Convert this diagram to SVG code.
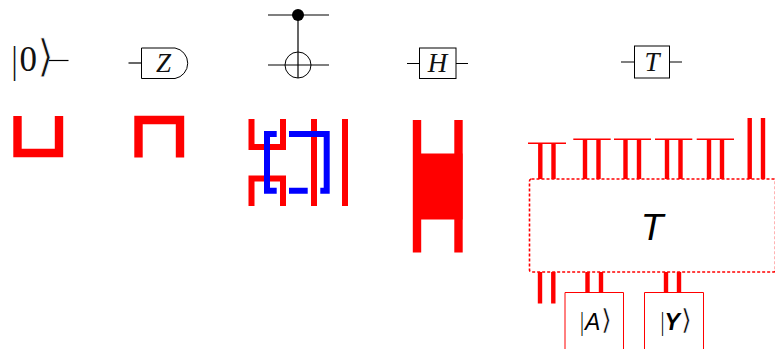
<svg xmlns="http://www.w3.org/2000/svg" width="775" height="349" viewBox="0 0 775 349">
<style>
.w{fill:none;stroke:#000;stroke-width:1.2}
.b{fill:#fff;stroke:#000;stroke-width:1}
.c{fill:none;stroke:#000;stroke-width:1}
.r8{fill:none;stroke:#f00;stroke-width:8.4}
.r6{fill:none;stroke:#f00;stroke-width:6}
.r4{fill:none;stroke:#f00;stroke-width:4.4}
.r2{fill:none;stroke:#f00;stroke-width:1.6}
.bl{fill:none;stroke:#00f;stroke-width:6}
.m{font-family:"Liberation Serif","DejaVu Serif",serif;font-style:italic;fill:#111;text-anchor:middle}
.s{font-family:"Liberation Sans","DejaVu Sans",sans-serif;font-style:italic;fill:#000}
.k{font-family:"Lato","DejaVu Sans",sans-serif;font-style:normal;font-weight:400;font-weight:300}
.a{font-family:"DejaVu Sans",sans-serif;font-style:normal;font-weight:400;stroke:#fff;paint-order:fill}
</style>
<g id="ket0"><text y="71" font-family="'Liberation Serif',serif" font-size="35" fill="#111"><tspan class="k" x="10" font-size="38" y="74">|</tspan><tspan x="19.500" y="71">0</tspan><tspan class="a" x="37" y="71" font-size="44" stroke-width="0.9">⟩</tspan></text><path class="w" d="M49 60.500H68.500"/></g>
<g id="ket0-red"><path class="r8" d="M17.500 116V153H59V116"/></g>
<g id="z-gate"><path class="w" d="M128.500 63H141.500"/><path class="b" d="M141.500 48H175A15.500 15.500 0 0 1 175 78.500H141.500Z"/><text class="m" x="163.500" y="72" font-size="27">Z</text></g>
<g id="z-red"><path class="r8" d="M138.500 157.500V120H180V157.500"/></g>
<g id="cnot"><path class="w" d="M268 15H329M268 65H329M298 15V78"/><circle cx="298" cy="15" r="6" fill="#000"/><circle class="c" cx="298" cy="65" r="13"/></g>
<g id="cnot-red"><path class="r6" d="M251.500 119V147H283V119M251.500 206V178.500H283V206M314 119V206M345 119V206"/></g>
<g id="cnot-blue"><path class="bl" d="M276.700 134H267V190.700H276.700M289 134H326.700V190.700H320.300M289 190.700H307.700"/></g>
<g id="h-gate"><path class="w" d="M407 63.500H419.500M456 63.500H468"/><rect class="b" x="419.500" y="48" width="36.500" height="30.500"/><text class="m" x="437.500" y="72" font-size="27">H</text></g>
<g id="h-red"><path class="r8" d="M417 120V252.500M458.500 120V252.500"/><rect x="413" y="153.500" width="49.500" height="66" fill="#f00"/></g>
<g id="t-gate"><path class="w" d="M621 62H634.500M669.500 62H682"/><rect class="b" x="634.500" y="46" width="35" height="32"/><text class="m" x="652" y="71" font-size="27">T</text></g>
<g id="t-box"><rect x="529.500" y="179" width="246" height="93" rx="2" fill="none" stroke="#f00" stroke-width="1.600" stroke-dasharray="3 2"/><text class="s" x="652" y="240" font-size="37" text-anchor="middle">T</text></g>
<g id="ket-a"><path fill="none" stroke="#f00" stroke-width="1" d="M565 349V292.500H623.500V349"/><text class="s" font-size="23"><tspan class="k" x="579" y="331" font-size="25">|</tspan><tspan x="585" y="330">A</tspan><tspan class="a" x="601" y="329" font-size="28" stroke-width="0.5">⟩</tspan></text></g>
<g id="ket-y"><path fill="none" stroke="#f00" stroke-width="1" d="M644.500 349V292.500H703.500V349"/><text class="s" font-size="23" font-weight="bold"><tspan class="k" x="659.500" y="331" font-size="25">|</tspan><tspan x="664.500" y="330">Y</tspan><tspan class="a" x="681" y="329" font-size="28" stroke-width="0.5">⟩</tspan></text></g>
<g id="connectors"><path class="r4" d="M540.300 143V179M553.500 143V179M585 139V179M598.500 139V179M625.500 139V179M639 139V179M667 139V179M680.500 139V179M709 139V179M722 139V179M749.700 118V179M763 118V179M540 272V303.500M553.300 272V303.500M587.500 272V292.500M601 272V292.500M666 272V292.500M679 272V292.500"/><path class="r2" d="M528 143.300H566M573.300 139.300H610.700M614 139.300H651M655 139.300H692.300M696.700 139.300H734"/></g>
</svg>
